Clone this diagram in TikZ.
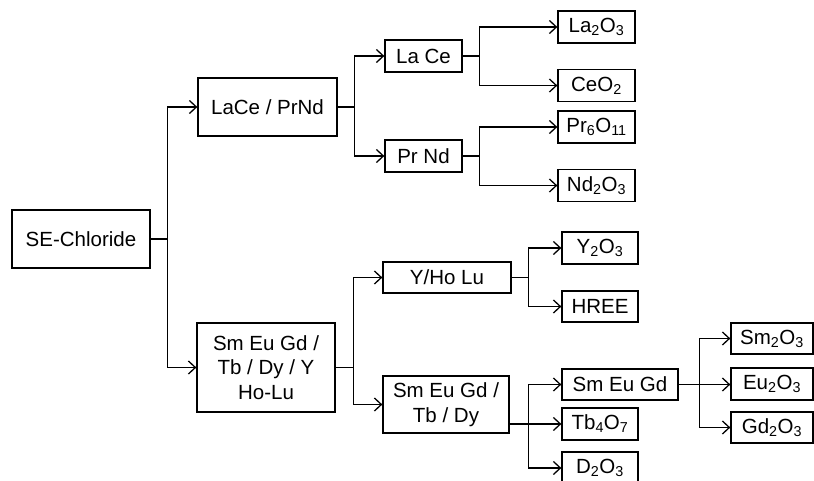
\documentclass[tikz,border=0pt]{standalone}
\usepackage{fontspec}
\setmainfont{Liberation Sans}
\usetikzlibrary{arrows.meta}

\begin{document}
\begin{tikzpicture}[x=1pt,y=-1pt,line width=1.3pt,
  box/.style={draw,inner sep=0pt,minimum height=32pt,align=center,font=\fontsize{20.5}{24.5}\selectfont},
  >={Straight Barb[length=7pt,width=13pt]}]
\useasboundingbox (0,0) rectangle (814,481);
\node[box,minimum width=138pt,minimum height=58pt] (sec) at (81,239) {SE-Chloride};
\node[box,minimum width=139pt,minimum height=58pt] (lp) at (267.5,107) {LaCe / PrNd};
\node[box,minimum width=138pt,minimum height=89pt] (hm) at (266,367.5) {Sm Eu Gd /\\Tb / Dy / Y\\Ho-Lu};
\node[box,minimum width=77pt] (lace) at (423.5,56) {La Ce};
\node[box,minimum width=77pt] (prnd) at (423.5,156) {Pr Nd};
\node[box,minimum width=77pt] (la) at (596.5,27) {La\textsubscript{2}O\textsubscript{3}};
\node[box,minimum width=77pt] (ce) at (596.5,85.5) {CeO\textsubscript{2}};
\node[box,minimum width=77pt] (pr) at (596.5,127) {Pr\textsubscript{6}O\textsubscript{11}};
\node[box,minimum width=77pt] (nd) at (596.5,185.5) {Nd\textsubscript{2}O\textsubscript{3}};
\node[box,minimum width=128pt,minimum height=31pt] (yholu) at (447,277.5) {Y/Ho Lu};
\node[box,minimum width=126pt,minimum height=57pt] (smtb) at (446,404.5) {Sm Eu Gd /\\Tb / Dy};
\node[box,minimum width=76pt] (y) at (600,248) {Y\textsubscript{2}O\textsubscript{3}};
\node[box,minimum width=76pt,minimum height=31pt] (hree) at (600,306.5) {HREE};
\node[box,minimum width=116pt,minimum height=31pt] (smeugd) at (620,384.5) {Sm Eu Gd};
\node[box,minimum width=76pt] (tb) at (600,424) {Tb\textsubscript{4}O\textsubscript{7}};
\node[box,minimum width=76pt] (d) at (600,468) {D\textsubscript{2}O\textsubscript{3}};
\node[box,minimum width=82pt,minimum height=31pt] (sm) at (772,338.5) {Sm\textsubscript{2}O\textsubscript{3}};
\node[box,minimum width=82pt] (eu) at (772,384) {Eu\textsubscript{2}O\textsubscript{3}};
\node[box,minimum width=82pt,minimum height=31pt] (gd) at (772,427.5) {Gd\textsubscript{2}O\textsubscript{3}};

\draw[->] (sec.east) -- ++(17,0) |- (lp.west);
\draw[->] (sec.east) -- ++(17,0) |- (hm.west);
\draw[->] (lp.east) -- ++(17,0) |- (lace.west);
\draw[->] (lp.east) -- ++(17,0) |- (prnd.west);
\draw[->] (lace.east) -- ++(17,0) |- (la.west);
\draw[->] (lace.east) -- ++(17,0) |- (ce.west);
\draw[->] (prnd.east) -- ++(17,0) |- (pr.west);
\draw[->] (prnd.east) -- ++(17,0) |- (nd.west);
\draw[->] (hm.east) -- ++(18,0) |- (yholu.west);
\draw[->] (hm.east) -- ++(18,0) |- (smtb.west);
\draw[->] (yholu.east) -- ++(17,0) |- (y.west);
\draw[->] (yholu.east) -- ++(17,0) |- (hree.west);
\draw[->] (smtb.east |- tb) -- (tb.west);
\draw[->] (smtb.east |- tb) -- ++(19,0) |- (smeugd.west);
\draw[->] (smtb.east |- tb) -- ++(19,0) |- (d.west);
\draw[->] (smeugd.east) -- (smeugd.east -| eu.west);
\draw[->] (smeugd.east) -- ++(21,0) |- (sm.west);
\draw[->] (smeugd.east) -- ++(21,0) |- (gd.west);
\end{tikzpicture}
\end{document}
